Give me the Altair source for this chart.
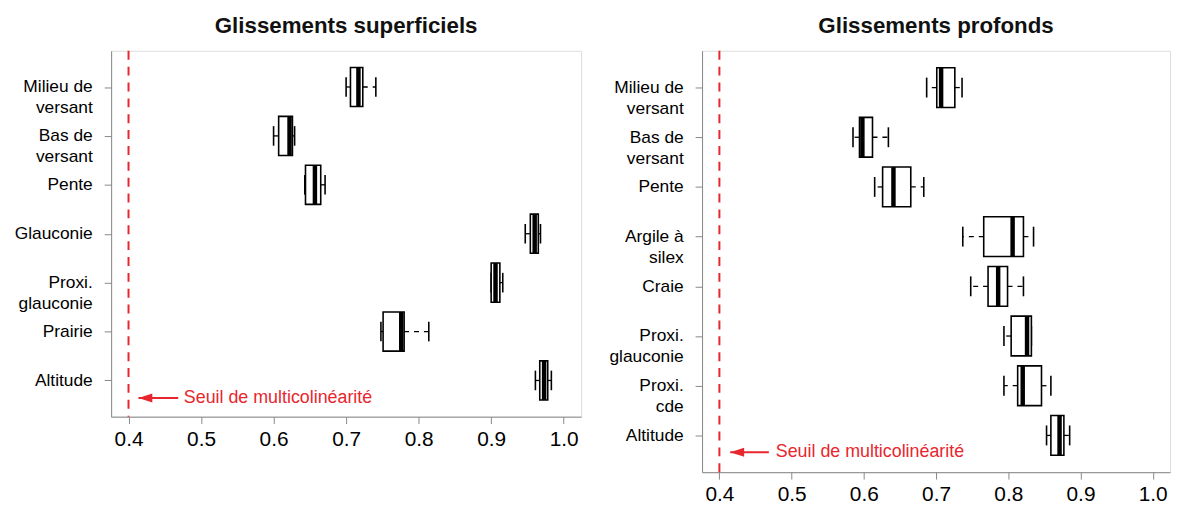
import altair as alt
import pandas as pd

# ---- data: Glissements superficiels ----
sup_names = ["Milieu de\nversant", "Bas de\nversant", "Pente", "Glauconie",
             "Proxi.\nglauconie", "Prairie", "Altitude"]
sup_lo  = [0.700, 0.600, 0.643, 0.947, 0.900, 0.748, 0.961]
sup_q1  = [0.706, 0.607, 0.644, 0.954, 0.900, 0.751, 0.967]
sup_med = [0.717, 0.622, 0.657, 0.960, 0.906, 0.776, 0.973]
sup_q3  = [0.723, 0.626, 0.665, 0.965, 0.912, 0.780, 0.978]
sup_hi  = [0.741, 0.629, 0.671, 0.968, 0.916, 0.814, 0.983]

# ---- data: Glissements profonds ----
pro_names = ["Milieu de\nversant", "Bas de\nversant", "Pente", "Argile à\nsilex",
             "Craie", "Proxi.\nglauconie", "Proxi.\ncde", "Altitude"]
pro_lo  = [0.687, 0.585, 0.615, 0.737, 0.748, 0.794, 0.794, 0.853]
pro_q1  = [0.701, 0.594, 0.626, 0.766, 0.772, 0.804, 0.813, 0.859]
pro_med = [0.707, 0.598, 0.641, 0.806, 0.786, 0.826, 0.820, 0.871]
pro_q3  = [0.726, 0.612, 0.665, 0.821, 0.799, 0.832, 0.846, 0.877]
pro_hi  = [0.736, 0.634, 0.683, 0.835, 0.821, 0.832, 0.859, 0.885]

threshold = 0.4
x_ticks = [0.4, 0.5, 0.6, 0.7, 0.8, 0.9, 1.0]
ann_text = "Seuil de multicolinéarité"
# annotation anchors (tip, tail, text start, vertical position in category units)
sup_ann = [0.4137, 0.4685, 0.4763, 7.36]
pro_ann = [0.4150, 0.4685, 0.4781, 8.34]

FONT = "Liberation Sans"
RED = "#e8262d"


def panel(title, names, lo, q1, med, q3, hi, ann, w, h):
    n = len(names)
    df = pd.DataFrame({"pos": list(range(1, n + 1)), "lo": lo, "q1": q1,
                       "med": med, "q3": q3, "hi": hi})
    xs = alt.Scale(domain=[0.376, 1.024], nice=False, zero=False)
    ys = alt.Scale(domain=[0.26, n + 0.74], nice=False, zero=False, reverse=True)
    arr = "[" + ",".join("'" + s.replace("\n", "|") + "'" for s in names) + "]"
    xaxis = alt.Axis(values=x_ticks, format=".1f", title=None, grid=False,
                     tickSize=7, labelFontSize=21, labelPadding=5)
    yaxis = alt.Axis(values=list(range(1, n + 1)), title=None, grid=False,
                     tickSize=7, labelFontSize=17.5, labelLineHeight=21,
                     labelPadding=12, minExtent=95, maxExtent=95,
                     labelExpr=f"split({arr}[datum.value - 1], '|')")

    base = alt.Chart(df).transform_calculate(
        b0="datum.pos - 0.4", b1="datum.pos + 0.4",
        c0="datum.pos - 0.2", c1="datum.pos + 0.2")

    thr = alt.Chart(pd.DataFrame({"t": [threshold]})).mark_rule(
        color=RED, strokeWidth=2, strokeDash=[9, 7]).encode(
        x=alt.X("t:Q", scale=xs, axis=xaxis))

    wl = base.mark_rule(color="black", strokeWidth=1.3, strokeDash=[5, 5]).encode(
        x=alt.X("q1:Q", scale=xs, axis=xaxis), x2="lo:Q",
        y=alt.Y("pos:Q", scale=ys, axis=yaxis))
    wh = base.mark_rule(color="black", strokeWidth=1.3, strokeDash=[5, 5]).encode(
        x=alt.X("q3:Q", scale=xs), x2="hi:Q", y=alt.Y("pos:Q", scale=ys))
    cl = base.mark_rule(color="black", strokeWidth=1.6).encode(
        x=alt.X("lo:Q", scale=xs), y=alt.Y("c0:Q", scale=ys), y2="c1:Q")
    ch = base.mark_rule(color="black", strokeWidth=1.6).encode(
        x=alt.X("hi:Q", scale=xs), y=alt.Y("c0:Q", scale=ys), y2="c1:Q")
    box = base.mark_rect(fill="white", stroke="black", strokeWidth=1.6).encode(
        x=alt.X("q1:Q", scale=xs), x2="q3:Q",
        y=alt.Y("b0:Q", scale=ys), y2="b1:Q")
    md = base.mark_rule(color="black", strokeWidth=4.5).encode(
        x=alt.X("med:Q", scale=xs), y=alt.Y("b0:Q", scale=ys), y2="b1:Q")

    adf = pd.DataFrame({"tip": [ann[0]], "tail": [ann[1]], "tx": [ann[2]],
                        "ay": [ann[3]], "lab": [ann_text]})
    aline = alt.Chart(adf).mark_rule(color=RED, strokeWidth=2).encode(
        x=alt.X("tip:Q", scale=xs), x2="tail:Q", y=alt.Y("ay:Q", scale=ys))
    ahead = alt.Chart(adf).mark_point(
        shape="M0,0L2.8,-0.9L2.8,0.9Z", filled=True, fill=RED, stroke=None,
        opacity=1, size=100).encode(
        x=alt.X("tip:Q", scale=xs), y=alt.Y("ay:Q", scale=ys))
    atext = alt.Chart(adf).mark_text(
        align="left", baseline="middle", color=RED, fontSize=18, font=FONT).encode(
        x=alt.X("tx:Q", scale=xs), y=alt.Y("ay:Q", scale=ys), text="lab:N")

    return alt.layer(thr, wl, wh, cl, ch, box, md, aline, ahead, atext).properties(
        width=w, height=h,
        title=alt.TitleParams(title, fontSize=22.5, fontWeight="bold", font=FONT,
                              anchor="middle", offset=12, color="#111"))


left = panel("Glissements superficiels", sup_names, sup_lo, sup_q1, sup_med,
             sup_q3, sup_hi, sup_ann, 474, 369)
right = panel("Glissements profonds", pro_names, pro_lo, pro_q1, pro_med,
              pro_q3, pro_hi, pro_ann, 472, 425)

chart = alt.hconcat(left, right, spacing=25).configure_view(
    stroke="#333", strokeWidth=1.8).configure_axis(
    labelFont=FONT, labelColor="#111", tickColor="#222", tickWidth=1.2,
    domain=False).configure(background="white")

chart.save("out.html", embed_options={"renderer": "svg", "actions": False})
